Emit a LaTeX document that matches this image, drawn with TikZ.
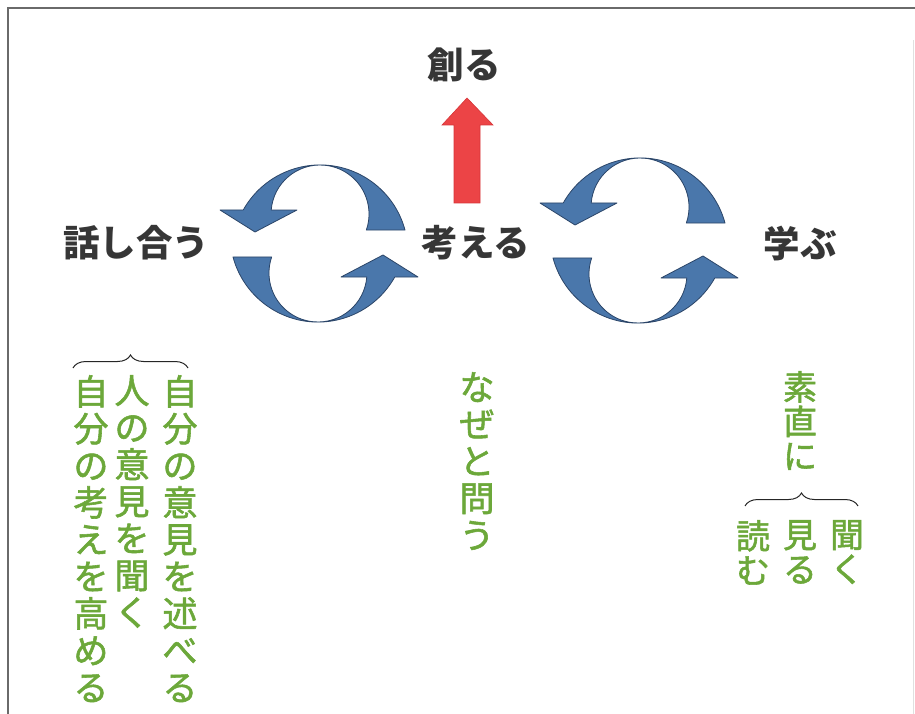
\documentclass[tikz,border=0pt]{standalone}
\usepackage{fontspec}
\newfontfamily\cjk{Noto Sans CJK JP}
\newfontfamily\cjkg[FakeBold=1.6]{Noto Sans CJK JP}
\usetikzlibrary{decorations.pathreplacing}
\definecolor{txtgray}{HTML}{363636}
\definecolor{leafgreen}{HTML}{6CA83A}
\definecolor{cycblue}{HTML}{4A77AB}
\definecolor{cycline}{HTML}{2B4568}
\definecolor{upred}{HTML}{EC4446}
\definecolor{upredline}{HTML}{D63538}
\definecolor{framegray}{HTML}{6A6A6A}
\tikzset{
  mainlabel/.style={font=\cjk\bfseries\fontsize{36.5}{40}\selectfont, text=txtgray, inner sep=0pt},
  vstack/.style={font=\cjkg\fontsize{35}{37}\selectfont, text=leafgreen, align=center, inner sep=0pt, anchor=north},
  vstacktight/.style={vstack, font=\cjkg\fontsize{34}{34.5}\selectfont},
  cycfill/.style={fill=cycblue, draw=cycline, line width=0.8pt, line join=round},
  bracestyle/.style={draw=black!85, line width=1pt, decorate, decoration={brace, amplitude=13pt}},
  cres/.pic={
    \path[cycfill] (85,65) arc[start angle=-15.1, end angle=-150.8, radius=88]
      -- (-100,45) -- (-65,67) -- (-23,45) -- (-48.8,45)
      arc[start angle=-175.3, end angle=19.1, radius=49] -- cycle;
  }
}
\begin{document}
\begin{tikzpicture}[x=1pt,y=-1pt]
\useasboundingbox (0,0) rectangle (915,714);
% frame
\draw[framegray, line width=2pt] (8,714) -- (8,8) -- (915,8);
\draw[black!12, line width=1pt] (913,40) -- (913,714);

% cycle arrows left
\pic at (320,165) {cres};
\pic[rotate=180] at (318,322) {cres};
% cycle arrows right
\pic at (640,158) {cres};
\pic[rotate=180] at (638,323) {cres};

% red up arrow
\path[fill=upred, draw=upredline, line width=0.6pt, line join=miter]
  (467,98) -- (493,125) -- (480,125) -- (480,203) -- (454,203) -- (454,125) -- (442,125) -- cycle;

% main labels
\node[mainlabel] (create) at (464,65) {創る};
\node[mainlabel] (talk) at (136,243) {話し合う};
\node[mainlabel] (think) at (476,243) {考える};
\node[mainlabel] (learn) at (800,244) {学ぶ};

% left group
\coordinate (lbA) at (73,368);
\coordinate (lbB) at (188,368);
\draw[bracestyle] (lbA) -- (lbB);
\node[vstack] (l1) at (180,375) {自\\分\\の\\意\\見\\を\\述\\べ\\る};
\node[vstack] (l2) at (132,375) {人\\の\\意\\見\\を\\聞\\く};
\node[vstack] (l3) at (91,375) {自\\分\\の\\考\\え\\を\\高\\め\\る};

% middle
\node[vstack] (why) at (477,372) {な\\ぜ\\と\\問\\う};

% right group
\node[vstacktight] (sunao) at (800,371) {素\\直\\に};
\coordinate (rbA) at (745,506);
\coordinate (rbB) at (858,506);
\draw[bracestyle] (rbA) -- (rbB);
\node[vstacktight] (r1) at (847,520) {聞\\く};
\node[vstacktight] (r2) at (800,520) {見\\る};
\node[vstacktight] (r3) at (753,520) {読\\む};
\end{tikzpicture}
\end{document}
